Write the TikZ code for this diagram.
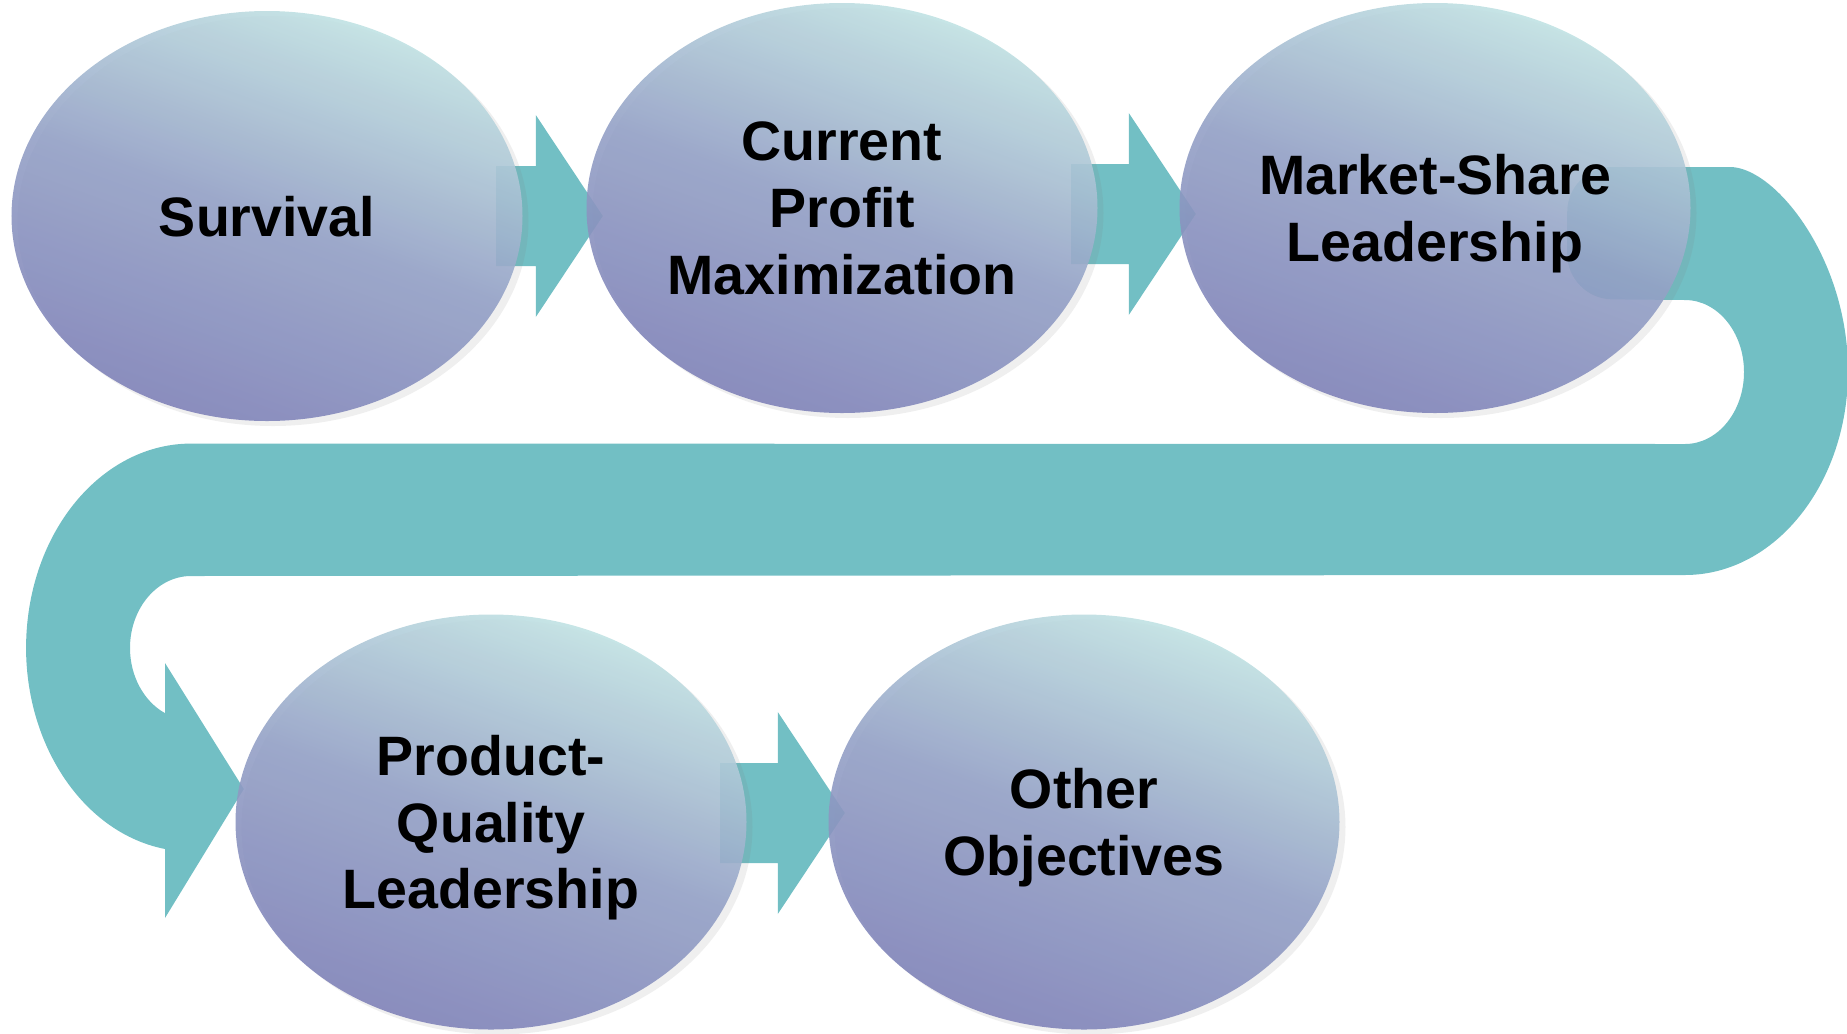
\documentclass[tikz,border=0pt]{standalone}
\usepackage{fontspec}
\setmainfont{Liberation Sans}
\usepackage{xcolor}
\usetikzlibrary{calc,shapes.geometric,shadows,backgrounds}

\definecolor{flowteal}{HTML}{72BFC4}
\definecolor{goaltop}{HTML}{C2E4E4}
\definecolor{goalbot}{HTML}{7F82B8}

\tikzset{
  goal/.style={ellipse, minimum width=5.11cm, minimum height=4.1cm, inner sep=0pt,
    top color=goaltop, bottom color=goalbot, middle color=goalbot!68!goaltop,
    shading angle=-20, fill opacity=0.9, text opacity=1, align=center, text depth=0pt,
    drop shadow={shadow xshift=0.06cm, shadow yshift=-0.05cm, opacity=0.13},
    font=\fontsize{15.8}{19}\selectfont\bfseries},
  flow/.style={fill=flowteal}
}

\begin{document}
\begin{tikzpicture}

\useasboundingbox (0,0) rectangle (18.47,-10.33);

% The five pricing objectives
\node[goal] (surv) at (2.67,-2.16) {Survival};
\node[goal] (profit) at (8.42,-2.08) {Current\\Profit\\Maximization};
\node[goal] (share) at (14.35,-2.08) {Market-Share\\Leadership};
\node[goal, minimum height=4.15cm] (quality) at (4.91,-8.22) {Product-\\Quality\\Leadership};
\node[goal, minimum height=4.15cm] (other) at (10.84,-8.22) {Other\\Objectives};

\begin{pgfonlayer}{background}
% Straight block arrows between neighbours
\foreach \a/\b/\dy in {surv/profit/0,profit/share/-0.06,quality/other/0.09} {
  \fill[flow] let \p1=($(\a.east)+(0,\dy)$), \p2=(\b.west) in
    (\x1-0.27cm,\y1+0.5cm) -- (\x2-0.5cm,\y1+0.5cm) -- (\x2-0.5cm,\y1+1.01cm)
    -- (\x2+0.17cm,\y1) -- (\x2-0.5cm,\y1-1.01cm) -- (\x2-0.5cm,\y1-0.5cm)
    -- (\x1-0.27cm,\y1-0.5cm) -- cycle;
}

% Bent arrow from the top row round to the bottom row
\coordinate (start) at ($(share.east)+(-1.24,0.41)$);
\coordinate (tip) at ($(quality.west)+(0.09,0.33)$);
\fill[flow] (16.85,-1.67)
  arc[start angle=90, end angle=-90, x radius=1.63, y radius=2.04]
  -- (1.91,-5.76)
  arc[start angle=90, end angle=244.8, x radius=0.61, y radius=0.72]
  -- (1.65,-6.63) -- (tip) -- (1.65,-9.18) -- (1.65,-8.49)
  arc[start angle=260.9, end angle=90, x radius=1.65, y radius=2.04]
  -- (16.85,-4.44)
  arc[start angle=-90, end angle=90, x radius=0.59, y radius=0.72]
  [rounded corners=0.45cm] -- (start |- 0,-2.99) -- (start) -- cycle;
\end{pgfonlayer}

\end{tikzpicture}
\end{document}
